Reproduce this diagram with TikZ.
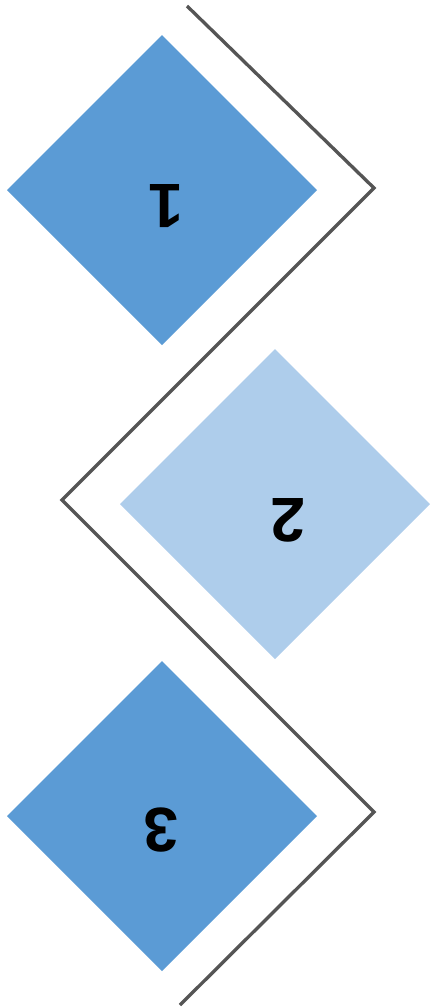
\documentclass[tikz,border=0pt]{standalone}
\usepackage{fontspec}
\setmainfont{Liberation Sans}
\usetikzlibrary{shapes.geometric}
\definecolor{stepBlue}{RGB}{91,155,213}
\definecolor{stepLight}{RGB}{174,205,235}
\definecolor{zigGray}{RGB}{85,85,85}
\tikzset{
  diabox/.style={diamond, fill=stepBlue, draw=none, inner sep=0pt, outer sep=0pt,
                 minimum width=232.5pt, minimum height=232.5pt},
  lightdiabox/.style={diabox, fill=stepLight},
  numlabel/.style={font=\fontsize{47}{47}\selectfont\bfseries, rotate=180, inner sep=0pt},
  zigline/.style={draw=zigGray, line width=2.5pt}
}
\begin{document}
\begin{tikzpicture}[x=0.75pt, y=-0.75pt]
\useasboundingbox (0,0) rectangle (431,1008);
% diamonds
\node[diabox] (d1) at (162,190) {};
\node[lightdiabox] (d2) at (275,504) {};
\node[diabox] (d3) at (162,816) {};
% numbers (upside down)
\node[numlabel] (n1) at (166,206) {1};
\node[numlabel] (n2) at (288,520) {2};
\node[numlabel] (n3) at (161,830) {3};
% zigzag
\coordinate (z0) at (187,6);
\coordinate (z1) at (374,188);
\coordinate (z2) at (62,500);
\coordinate (z3) at (374,812);
\coordinate (z4) at (180,1005);
\draw[zigline] (z0) -- (z1) -- (z2) -- (z3) -- (z4);
\end{tikzpicture}
\end{document}
